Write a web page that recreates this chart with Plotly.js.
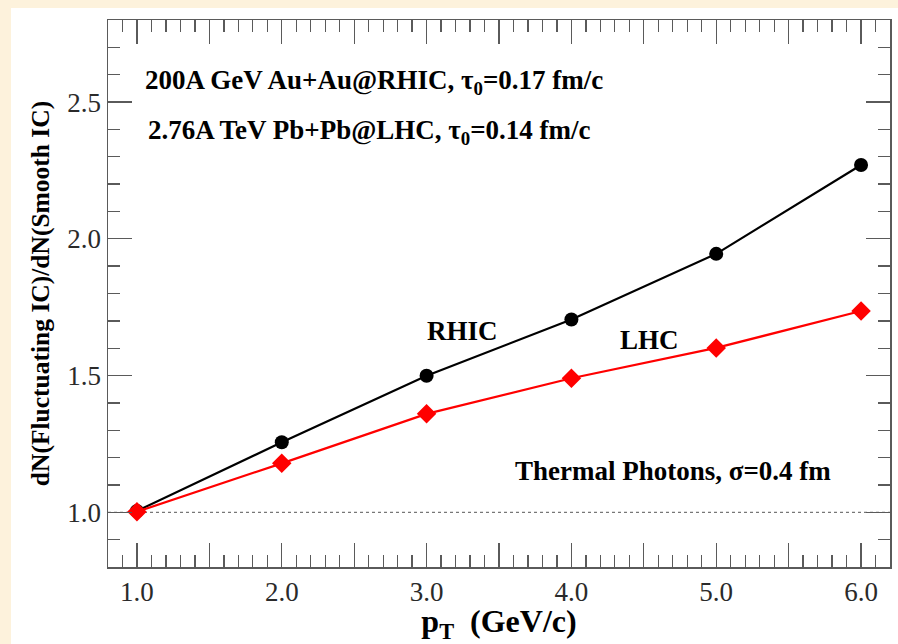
<!DOCTYPE html>
<html>
<head>
<meta charset="utf-8">
<script src="https://cdn.plot.ly/plotly-3.0.1.min.js"></script>
<style>
  html, body { margin: 0; padding: 0; background: #FDF2DC; width: 898px; height: 644px; overflow: hidden; }
  #chart { position: absolute; left: 11px; top: 8px; width: 887px; height: 636px; background: #fff; }
</style>
</head>
<body>
<div id="chart"></div>
<script>
// Data
const pT = [1.0, 2.0, 3.0, 4.0, 5.0, 6.0];
const rhic = [1.005, 1.256, 1.499, 1.705, 1.945, 2.270];
const lhc = [1.002, 1.179, 1.360, 1.490, 1.601, 1.736];
const xTickVals = [1.0, 2.0, 3.0, 4.0, 5.0, 6.0];
const xTickText = ['1.0', '2.0', '3.0', '4.0', '5.0', '6.0'];
const xHalfTicks = [1.5, 2.5, 3.5, 4.5, 5.5];
const yTickVals = [1.0, 1.5, 2.0, 2.5];
const yTickText = ['1.0', '1.5', '2.0', '2.5'];

const serif = "'Liberation Serif', 'Times New Roman', Times, serif";
const axisCol = '#5a5a5a';
const xRange = [0.8, 6.2];

const traces = [
  {
    x: pT, y: rhic, type: 'scatter', mode: 'lines+markers', name: 'RHIC',
    line: { color: '#000000', width: 2.2 },
    marker: { symbol: 'circle', size: 14, color: '#000000' },
    cliponaxis: false
  },
  {
    x: pT, y: lhc, type: 'scatter', mode: 'lines+markers', name: 'LHC',
    line: { color: '#ff0000', width: 2.2 },
    marker: { symbol: 'diamond', size: 15, color: '#ff0000' },
    cliponaxis: false
  },
  {
    // invisible carrier trace so the half-unit long ticks axis is drawn
    x: pT, y: rhic, xaxis: 'x2', type: 'scatter', mode: 'markers',
    marker: { opacity: 0, size: 1 }, hoverinfo: 'skip', showlegend: false
  }
];

const layout = {
  width: 887, height: 636,
  margin: { l: 97, r: 8, t: 12, b: 77 },
  paper_bgcolor: '#ffffff', plot_bgcolor: '#ffffff',
  showlegend: false,
  font: { family: serif, color: '#000' },
  xaxis: {
    range: xRange, showgrid: false, zeroline: false,
    showline: true, linecolor: axisCol, linewidth: 1.5, mirror: 'ticks',
    ticks: 'inside', ticklen: 24, tickwidth: 1.3, tickcolor: axisCol,
    tickmode: 'array', tickvals: xTickVals, ticktext: xTickText,
    tickfont: { family: serif, size: 27, color: '#2a2a2a' },
    minor: { ticks: 'inside', dtick: 0.1, tick0: 0, ticklen: 12, tickwidth: 1.3, tickcolor: axisCol, showgrid: false },
    title: { text: '<b>p<sub>T</sub>  (GeV/c)</b>', font: { family: serif, size: 32, color: '#000' }, standoff: 2 }
  },
  xaxis2: {
    overlaying: 'x', anchor: 'y', side: 'bottom',
    range: xRange, showgrid: false, zeroline: false, showline: false, mirror: 'ticks',
    ticks: 'inside', ticklen: 24, tickwidth: 1.3, tickcolor: axisCol,
    tickmode: 'array', tickvals: xHalfTicks, showticklabels: false
  },
  yaxis: {
    range: [0.8, 2.8], showgrid: false, zeroline: false,
    showline: true, linecolor: axisCol, linewidth: 1.5, mirror: 'ticks',
    ticks: 'inside', ticklen: 24, tickwidth: 1.3, tickcolor: axisCol,
    tickmode: 'array', tickvals: yTickVals, ticktext: yTickText,
    tickfont: { family: serif, size: 27, color: '#2a2a2a' },
    minor: { ticks: 'inside', dtick: 0.1, tick0: 0, ticklen: 12, tickwidth: 1.3, tickcolor: axisCol, showgrid: false },
    title: { text: '<b>dN(Fluctuating IC)/dN(Smooth IC)</b>', font: { family: serif, size: 25.5, color: '#000' }, standoff: 10 }
  },
  shapes: [
    { type: 'line', xref: 'x', yref: 'y', x0: 0.8, x1: 6.2, y0: 1.0, y1: 1.0,
      line: { color: '#555', width: 1, dash: 'dot' }, layer: 'below' }
  ],
  annotations: [
    { x: 1.043, y: 2.573, xref: 'x', yref: 'y', xanchor: 'left', yanchor: 'middle', showarrow: false,
      text: '<b>200A GeV Au+Au@RHIC, τ<sub>0</sub>=0.17 fm/c</b>', font: { family: serif, size: 27, color: '#000' } },
    { x: 1.063, y: 2.392, xref: 'x', yref: 'y', xanchor: 'left', yanchor: 'middle', showarrow: false,
      text: '<b>2.76A TeV Pb+Pb@LHC, τ<sub>0</sub>=0.14 fm/c</b>', font: { family: serif, size: 27, color: '#000' } },
    { x: 3.25, y: 1.663, xref: 'x', yref: 'y', showarrow: false,
      text: '<b>RHIC</b>', font: { family: serif, size: 27, color: '#000' } },
    { x: 4.54, y: 1.63, xref: 'x', yref: 'y', showarrow: false,
      text: '<b>LHC</b>', font: { family: serif, size: 27, color: '#000' } },
    { x: 4.70, y: 1.151, xref: 'x', yref: 'y', showarrow: false,
      text: '<b>Thermal Photons, σ=0.4 fm</b>', font: { family: serif, size: 27, color: '#000' } }
  ]
};

Plotly.newPlot('chart', traces, layout, { displayModeBar: false, staticPlot: true });
</script>
</body>
</html>
